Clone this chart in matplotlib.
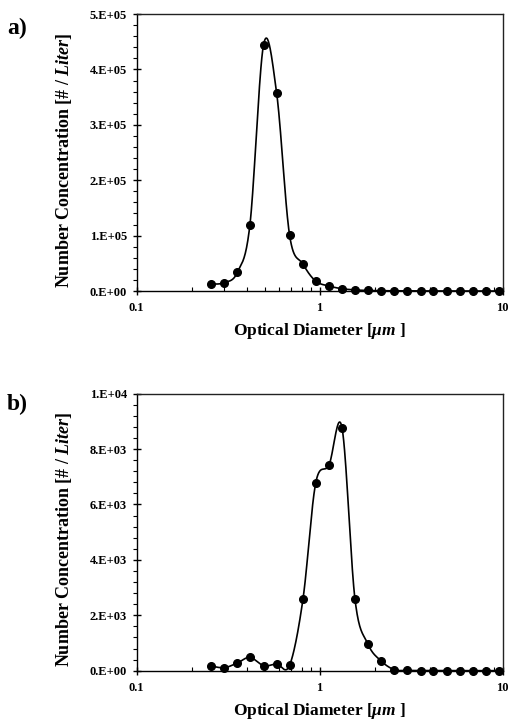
import numpy as np
import matplotlib
matplotlib.use("Agg")
import matplotlib.pyplot as plt
from matplotlib.ticker import FixedLocator, FuncFormatter, LogLocator, NullFormatter, AutoMinorLocator

# ---- data ----
diameter = [0.255, 0.301, 0.355, 0.416, 0.494, 0.582, 0.685, 0.811, 0.951, 1.125,
            1.325, 1.56, 1.837, 2.17, 2.56, 3.01, 3.56, 4.18, 4.94, 5.85, 6.89, 8.11, 9.55]

conc_a = [12600, 15000, 33700, 120000, 445000, 357400, 101000, 48700, 18000, 9000,
          4200, 2000, 1000, 600, 400, 300, 200, 150, 100, 80, 60, 50, 40]

conc_b = [168, 108, 277, 481, 180, 241, 193, 2587, 6763, 7425,
          8773, 2587, 963, 349, 36, 10, 5, 3, 2, 1, 1, 1, 1]

yticks_a = [0, 1e5, 2e5, 3e5, 4e5, 5e5]
yticks_b = [0, 2e3, 4e3, 6e3, 8e3, 1e4]
xticks = [0.1, 1, 10]
xticklabels = ["0.1", "1", "10"]
panel_labels = ["a)", "b)"]

plt.rcParams["font.family"] = ["Liberation Serif", "DejaVu Serif"]
plt.rcParams["font.weight"] = "bold"
plt.rcParams["mathtext.fontset"] = "custom"
plt.rcParams["mathtext.rm"] = "Liberation Serif:bold"
plt.rcParams["mathtext.it"] = "Liberation Serif:italic:bold"
plt.rcParams["mathtext.bf"] = "Liberation Serif:bold"


def catmull_rom(x, y, n=30, tension=1 / 6.0):
    """Excel-like smoothed line, computed in (log10 x, y) space."""
    lx = np.log10(np.asarray(x, float))
    yy = np.asarray(y, float)
    P = np.column_stack([lx, yy])
    P = np.vstack([P[0], P, P[-1]])
    out = []
    t = np.linspace(0, 1, n, endpoint=False)[:, None]
    for i in range(1, len(P) - 2):
        p0, p1, p2, p3 = P[i - 1], P[i], P[i + 1], P[i + 2]
        c1 = p1 + (p2 - p0) * tension
        c2 = p2 - (p3 - p1) * tension
        seg = ((1 - t) ** 3) * p1 + 3 * ((1 - t) ** 2) * t * c1 + 3 * (1 - t) * t ** 2 * c2 + t ** 3 * p2
        out.append(seg)
    out.append(P[-2][None, :])
    out = np.vstack(out)
    return 10 ** out[:, 0], out[:, 1]


def sci_fmt(v, pos=None):
    if v == 0:
        return "0.E+00"
    e = int(np.floor(np.log10(abs(v)) + 1e-9))
    m = v / 10 ** e
    return f"{m:.0f}.E+{e:02d}"


fig = plt.figure(figsize=(5.11, 7.2), dpi=100)
axes_pos = [[0.2675, 0.5958, 0.7160, 0.3847], [0.2675, 0.0685, 0.7160, 0.3847]]
datasets = [(conc_a, yticks_a), (conc_b, yticks_b)]
label_y = [0.960, 0.438]

for k, ((conc, yt), pos) in enumerate(zip(datasets, axes_pos)):
    ax = fig.add_axes(pos)
    sx, sy = catmull_rom(diameter, conc)
    ax.plot(sx, sy, color="black", lw=1.2, zorder=2)
    ax.plot(diameter, conc, "o", color="black", ms=5.5, zorder=3, clip_on=False)
    ax.set_xscale("log")
    ax.set_xlim(0.1, 10)
    ax.set_ylim(yt[0], yt[-1])
    ax.yaxis.set_major_locator(FixedLocator(yt))
    ax.yaxis.set_major_formatter(FuncFormatter(sci_fmt))
    ax.yaxis.set_minor_locator(AutoMinorLocator(5))
    ax.xaxis.set_major_locator(FixedLocator(xticks))
    ax.set_xticklabels(xticklabels)
    ax.xaxis.set_minor_locator(LogLocator(base=10, subs=np.arange(2, 10)))
    ax.xaxis.set_minor_formatter(NullFormatter())
    ax.tick_params(axis="y", which="major", direction="inout", length=6, width=1, pad=4, labelsize=9)
    ax.tick_params(axis="y", which="minor", direction="out", length=3, width=0.8)
    ax.tick_params(axis="x", which="major", direction="inout", length=6, width=1, pad=5, labelsize=9)
    ax.tick_params(axis="x", which="minor", direction="in", length=3, width=0.8)
    for lbl in ax.get_xticklabels() + ax.get_yticklabels():
        lbl.set_fontweight("bold")
    for s in ax.spines.values():
        s.set_linewidth(1.0)
        s.set_color("#222222")
    ax.spines["left"].set_color("black")
    ax.spines["bottom"].set_color("black")
    ax.set_ylabel(r"Number Concentration [# / $\mathit{Liter}$]", fontsize=13, fontweight="bold")
    ax.yaxis.set_label_coords(-0.172, 0.474)
    ax.set_xlabel(r"Optical Diameter [$\mathit{\mu m}$ ]", fontsize=12.5, fontweight="bold", labelpad=5)
    fig.text(0.014, label_y[k], panel_labels[k], fontsize=17, fontweight="bold", va="center", ha="left")

fig.savefig("out.png", dpi=100)
